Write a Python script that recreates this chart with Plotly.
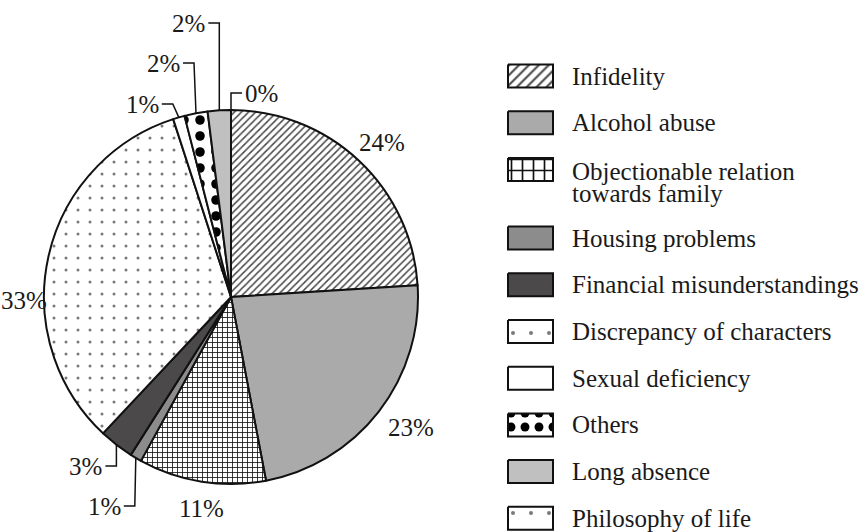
import math
import plotly.graph_objects as go

# ---------------- data ----------------
categories = [
    "Infidelity",
    "Alcohol abuse",
    "Objectionable relation<br>towards family",
    "Housing problems",
    "Financial misunderstandings",
    "Discrepancy of characters",
    "Sexual deficiency",
    "Others",
    "Long absence",
    "Philosophy of life",
]
values = [24, 23, 11, 1, 3, 33, 1, 2, 2, 0]
value_labels = [f"{v}%" for v in values]

# ---------------- styles ----------------
fill_colors = ["#ffffff", "#aaaaaa", "#ffffff", "#8c8c8c", "#4b4949",
               "#ffffff", "#ffffff", "#ffffff", "#c0c0c0", "#ffffff"]
pat_shape = ["/", "", "+", "", "", ".", "", ".", "", "."]
pat_fg = ["#4a4a4a", "#000000", "#111111", "#000000", "#000000",
          "#7a7a7a", "#000000", "#000000", "#000000", "#7a7a7a"]
pat_size = [5, 8, 5, 8, 8, 12, 8, 16, 8, 12]
pat_solid = [0.3, 0.3, 0.3, 0.3, 0.3, 0.05, 0.3, 0.28, 0.3, 0.05]
leg_size = [7, 8, 11, 8, 8, 18, 8, 14, 8, 18]
leg_solid = [0.3, 0.3, 0.28, 0.3, 0.3, 0.04, 0.3, 0.32, 0.3, 0.04]

FONT = "Liberation Serif, Times New Roman, serif"
FS = 25
W, H = 865, 532
CX, CY, R = 231, 297, 187             # pie centre / radius in pixels

# label layout: ("plain", x, y) or ("leader", side, text_y, elbow_dx)
label_layout = [
    ("plain", 382, 142),
    ("plain", 411, 427),
    ("plain", 201, 508),
    ("leader", "left", 506, -1),
    ("leader", "left", 466, 0),
    ("plain", 24, 300),
    ("leader", "left", 104, -6),
    ("leader", "left", 63, -2),
    ("leader", "left", 23, 0),
    ("leader", "right", 93, 0),
]

fig = go.Figure()

fig.add_trace(go.Pie(
    labels=categories,
    values=values,
    sort=False,
    direction="clockwise",
    rotation=0,
    textinfo="none",
    hoverinfo="skip",
    showlegend=False,
    domain=dict(x=[(CX - R) / W, (CX + R) / W],
                y=[1 - (CY + R) / H, 1 - (CY - R) / H]),
    marker=dict(
        colors=fill_colors,
        line=dict(color="#111111", width=2),
        pattern=dict(shape=pat_shape, fgcolor=pat_fg, bgcolor=fill_colors,
                     size=pat_size, solidity=pat_solid, fillmode="replace"),
    ),
))

# ---------------- labels with leaders ----------------
total = sum(values)
shapes = []
annotations = []
cum = 0
for i, v in enumerate(values):
    mid = (cum + v / 2) / total * 2 * math.pi
    cum += v
    ex = CX + R * math.sin(mid)
    ey = CY - R * math.cos(mid)
    spec = label_layout[i]
    if spec[0] == "plain":
        annotations.append(dict(x=spec[1], y=spec[2], text=value_labels[i],
                                xref="x", yref="y", showarrow=False,
                                xanchor="center", yanchor="middle",
                                font=dict(family=FONT, size=FS, color="#1a1a1a")))
    else:
        side, ty, dx = spec[1], spec[2], spec[3]
        sign = -1 if side == "left" else 1
        bx = ex + dx
        hx = bx + sign * 11
        shapes.append(dict(type="path", xref="x", yref="y",
                           path=f"M{ex:.1f},{ey:.1f} L{bx:.1f},{ty} L{hx:.1f},{ty}",
                           line=dict(color="#111111", width=1.5)))
        annotations.append(dict(x=hx + sign * 1, y=ty, text=value_labels[i],
                                xref="x", yref="y", showarrow=False,
                                xanchor="right" if side == "left" else "left",
                                yanchor="middle",
                                font=dict(family=FONT, size=FS, color="#1a1a1a")))

# ---------------- custom legend ----------------
row_y = []
extra = 0
for i, c in enumerate(categories):
    row_y.append(76 + 46.7 * i + 22 * extra)
    extra += c.count("<br>")

SW_X0, SW_X1, SW_H = 508, 553, 23
for i, c in enumerate(categories):
    y0, y1 = row_y[i] - SW_H / 2, row_y[i] + SW_H / 2
    kw = {}
    if pat_shape[i]:
        kw["fillpattern"] = dict(shape=pat_shape[i], fgcolor=pat_fg[i],
                                 bgcolor=fill_colors[i], size=leg_size[i],
                                 solidity=leg_solid[i], fillmode="replace")
    fig.add_trace(go.Scatter(
        x=[SW_X0, SW_X1, SW_X1, SW_X0, SW_X0],
        y=[y0, y0, y1, y1, y0],
        mode="lines", fill="toself", fillcolor=fill_colors[i],
        line=dict(color="#111111", width=2),
        hoverinfo="skip", showlegend=False, **kw,
    ))
    lines = c.split("<br>")
    for k, line in enumerate(lines):
        annotations.append(dict(x=570, y=row_y[i] + (2 if len(lines) > 1 else 0) + 22 * k,
                                text=line,
                                xref="x", yref="y", showarrow=False,
                                xanchor="left", yanchor="middle",
                                font=dict(family=FONT, size=FS, color="#1a1a1a")))

fig.update_layout(
    width=W, height=H,
    margin=dict(l=0, r=0, t=0, b=0),
    paper_bgcolor="white", plot_bgcolor="rgba(0,0,0,0)",
    xaxis=dict(range=[0, W], visible=False, fixedrange=True, domain=[0, 1]),
    yaxis=dict(range=[H, 0], visible=False, fixedrange=True, domain=[0, 1]),
    shapes=shapes,
    annotations=annotations,
    showlegend=False,
)

fig.write_html("out.html",
               config={"displayModeBar": False},
               post_script="document.body.style.margin='0';document.body.style.overflow='hidden';")
